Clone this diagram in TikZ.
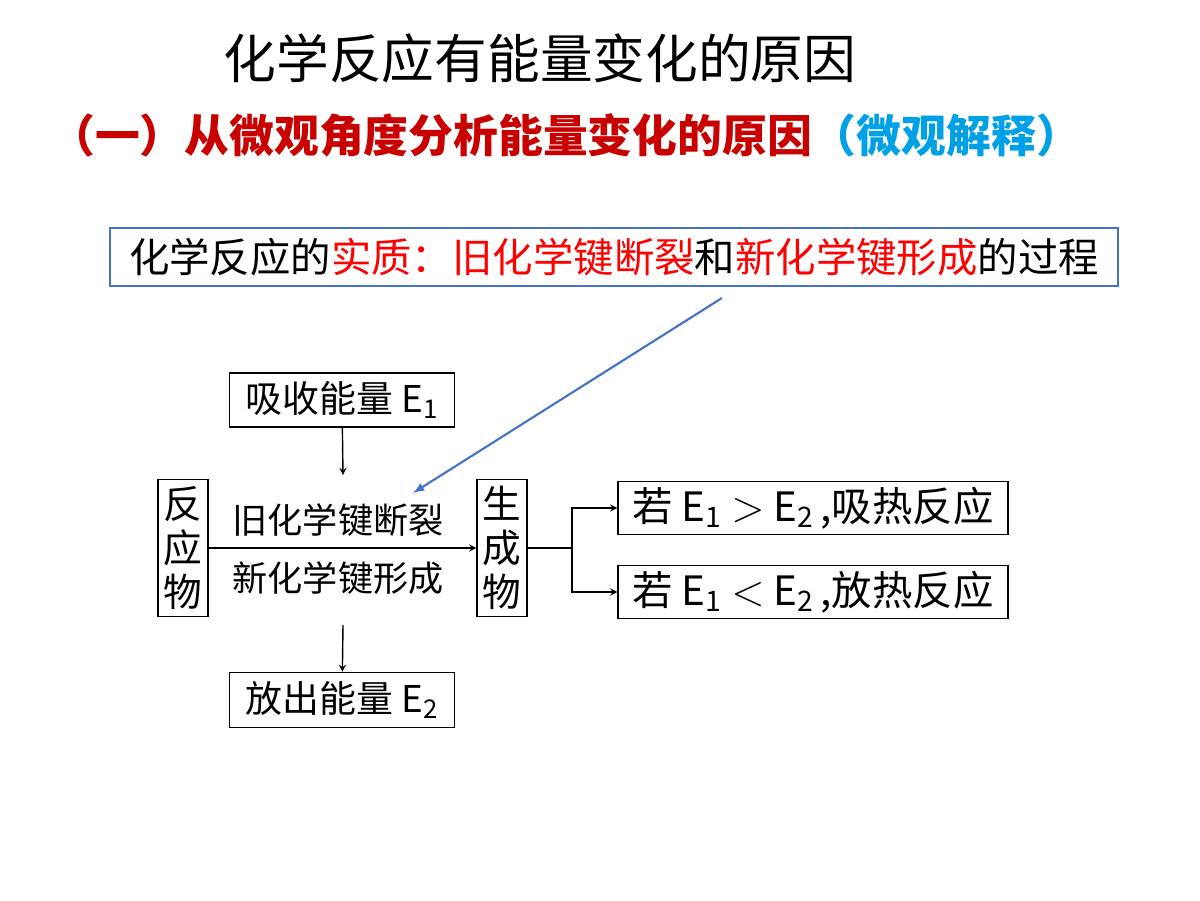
\documentclass[tikz,border=0pt]{standalone}
\usepackage{fontspec}
\setmainfont{Noto Sans CJK SC}
\usetikzlibrary{positioning}
\definecolor{boxblue}{RGB}{68,114,196}
\definecolor{titlered}{RGB}{200,0,0}
\definecolor{titleblue}{RGB}{0,160,230}
\begin{document}
\begin{tikzpicture}[x=0.02cm,y=-0.02cm,
    frame/.style={draw,thick,inner sep=0pt,font=\fontsize{21}{24}\selectfont},
    flow/.style={->,>=stealth,thick}]
\useasboundingbox (0,0) rectangle (1200,900);
% titles
\node (title) at (540,58) {\fontsize{30}{34}\selectfont 化学反应有能量变化的原因};
\node[anchor=west,inner sep=0pt] (sub) at (50,135) {\fontsize{25.5}{28}\selectfont\bfseries\color{titlered}（一）从微观角度分析能量变化的原因\color{titleblue}（微观解释）};
% essence box
\node[draw=boxblue,thick,minimum width=1008*0.02cm,minimum height=58*0.02cm] (essence) at (614,257)
  {\fontsize{23}{26}\selectfont 化学反应的\textcolor{red}{实质：旧化学键断裂}和\textcolor{red}{新化学键形成}的过程};
% flow diagram
\node[frame,minimum width=225*0.02cm,minimum height=54*0.02cm] (absorb) at (342,400) {吸收能量 E\textsubscript{1}};
\node[frame,minimum width=50*0.02cm,minimum height=137*0.02cm,align=center,font=\fontsize{22}{25}\selectfont] (react) at (183,548) {反\\应\\物};
\node[frame,minimum width=50*0.02cm,minimum height=137*0.02cm,align=center,font=\fontsize{22}{25}\selectfont] (prod) at (502,548) {生\\成\\物};
\node[frame,minimum width=225*0.02cm,minimum height=55*0.02cm] (release) at (342,700) {放出能量 E\textsubscript{2}};
\node[frame,minimum width=390*0.02cm,minimum height=53*0.02cm,font=\fontsize{23}{26}\selectfont] (endo) at (813,508) {若 E\textsubscript{1} $>$ E\textsubscript{2}\,,吸热反应};
\node[frame,minimum width=390*0.02cm,minimum height=53*0.02cm,font=\fontsize{23}{26}\selectfont] (exo) at (813,592) {若 E\textsubscript{1} $<$ E\textsubscript{2}\,,放热反应};
\node (break) at (338,520) {\fontsize{20}{22}\selectfont 旧化学键断裂};
\node (form) at (338,578) {\fontsize{20}{22}\selectfont 新化学键形成};
\coordinate (split) at (572,548);
\draw[flow] (absorb) -- (343,475);
\draw[flow] (343,625) -- (release);
\draw[flow] (react) -- (prod);
\draw[thick] (prod) -- (split);
\draw[flow] (split) |- (endo);
\draw[flow] (split) |- (exo);
\draw[->,>=latex,very thick,boxblue] (722,298) -- (413,493);
\end{tikzpicture}
\end{document}
